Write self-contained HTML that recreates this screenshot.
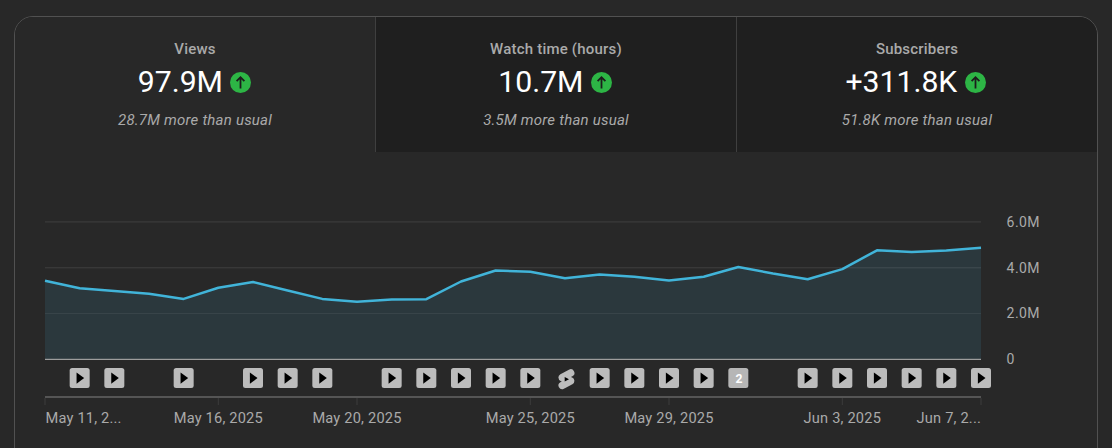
<!DOCTYPE html>
<html><head><meta charset="utf-8">
<style>
html,body{margin:0;padding:0;background:#282828;}
body{width:1112px;height:448px;overflow:hidden;position:relative;font-family:"Roboto","Liberation Sans",sans-serif;}
.card{position:absolute;left:14px;top:16px;width:1082px;height:600px;border:1px solid #515151;border-radius:19px;overflow:hidden;background:#282828;}
.tiles{position:absolute;left:0;top:0;height:135px;width:1082px;display:flex;}
.tile{width:360px;height:135px;position:relative;text-align:center;background:#1f1f1f;}
.tile.sel{background:#282828;}
.div{width:1px;height:135px;background:#3f3f3f;}
.lbl{position:absolute;left:0;right:0;top:22px;font-size:15px;font-weight:540;color:#aaa;line-height:20px;letter-spacing:0.2px;}
.val{position:absolute;left:-1px;right:0;top:46.5px;height:36px;display:flex;justify-content:center;align-items:center;}
.num{font-size:30.2px;color:#fff;line-height:36px;letter-spacing:0px;}
.up{width:21px;height:21px;margin-left:7.3px;position:relative;top:0.8px;}
.sub{position:absolute;left:0;right:0;top:93px;font-size:15px;letter-spacing:0.22px;font-weight:440;font-style:italic;color:#aaa;line-height:20px;}
svg.chart{position:absolute;left:0;top:0;}
.ax{font-size:14.6px;letter-spacing:0.2px;font-weight:450;fill:#aaa;font-family:"Roboto","Liberation Sans",sans-serif;}
.yl{font-size:14px;letter-spacing:0.45px;font-weight:450;fill:#aaa;font-family:"Roboto","Liberation Sans",sans-serif;}
</style></head><body>
<div class="card">
 <div class="tiles">
  <div class="tile sel"><div class="lbl">Views</div><div class="val"><span class="num">97.9M</span><svg class="up" viewBox="0 0 20 20"><circle cx="10" cy="10" r="10" fill="#2db545"/><path d="M10 15.8V4.9M6.3 8.6L10 4.9L13.7 8.6" stroke="#1c1c1c" stroke-width="1.7" fill="none"/></svg></div><div class="sub">28.7M more than usual</div></div>
  <div class="div"></div>
  <div class="tile"><div class="lbl">Watch time (hours)</div><div class="val" style="left:-2px"><span class="num">10.7M</span><svg class="up" viewBox="0 0 20 20"><circle cx="10" cy="10" r="10" fill="#2db545"/><path d="M10 15.8V4.9M6.3 8.6L10 4.9L13.7 8.6" stroke="#1c1c1c" stroke-width="1.7" fill="none"/></svg></div><div class="sub">3.5M more than usual</div></div>
  <div class="div"></div>
  <div class="tile"><div class="lbl">Subscribers</div><div class="val" style="left:-3px"><span class="num">+311.8K</span><svg class="up" viewBox="0 0 20 20"><circle cx="10" cy="10" r="10" fill="#2db545"/><path d="M10 15.8V4.9M6.3 8.6L10 4.9L13.7 8.6" stroke="#1c1c1c" stroke-width="1.7" fill="none"/></svg></div><div class="sub">51.8K more than usual</div></div>
 </div>
</div>
<svg class="chart" width="1112" height="448" viewBox="0 0 1112 448">
 <path d="M45.00,359.0 L45.00,280.80 L79.67,288.30 L114.33,291.00 L149.00,293.80 L183.67,298.90 L218.33,287.80 L253.00,282.00 L287.67,290.50 L322.33,298.90 L357.00,301.70 L391.67,299.50 L426.33,299.20 L461.00,281.50 L495.67,270.50 L530.33,271.70 L565.00,278.20 L599.67,274.40 L634.33,276.70 L669.00,280.50 L703.67,276.80 L738.33,267.00 L773.00,273.50 L807.67,279.20 L842.33,269.10 L877.00,250.30 L911.67,251.90 L946.33,250.50 L981.00,247.80 L981.00,359.0 Z" fill="#2b383d"/>
 <rect x="45" y="221.4" width="936" height="1" fill="#fff" fill-opacity="0.11"/>
 <rect x="45" y="267.3" width="936" height="1" fill="#fff" fill-opacity="0.11"/>
 <rect x="45" y="313.1" width="936" height="1" fill="#fff" fill-opacity="0.07"/>
 <polyline points="45.00,280.80 79.67,288.30 114.33,291.00 149.00,293.80 183.67,298.90 218.33,287.80 253.00,282.00 287.67,290.50 322.33,298.90 357.00,301.70 391.67,299.50 426.33,299.20 461.00,281.50 495.67,270.50 530.33,271.70 565.00,278.20 599.67,274.40 634.33,276.70 669.00,280.50 703.67,276.80 738.33,267.00 773.00,273.50 807.67,279.20 842.33,269.10 877.00,250.30 911.67,251.90 946.33,250.50 981.00,247.80" fill="none" stroke="#41b4d9" stroke-width="2.5" stroke-linejoin="round"/>
 <rect x="45" y="358.8" width="936" height="1.1" fill="#aaa"/>
 <text x="1006.6" y="227" class="yl">6.0M</text>
 <text x="1006.6" y="273" class="yl">4.0M</text>
 <text x="1006.6" y="318" class="yl">2.0M</text>
 <text x="1006.6" y="364" class="yl">0</text>
 <rect x="69.67" y="368" width="20" height="20" rx="2.5" fill="#bcbcbc"/><path d="M76.57,372.5 L84.17,378.1 L76.57,383.7 Z" fill="#000"/><rect x="104.33" y="368" width="20" height="20" rx="2.5" fill="#bcbcbc"/><path d="M111.23,372.5 L118.83,378.1 L111.23,383.7 Z" fill="#000"/><rect x="173.67" y="368" width="20" height="20" rx="2.5" fill="#bcbcbc"/><path d="M180.57,372.5 L188.17,378.1 L180.57,383.7 Z" fill="#000"/><rect x="243.00" y="368" width="20" height="20" rx="2.5" fill="#bcbcbc"/><path d="M249.90,372.5 L257.50,378.1 L249.90,383.7 Z" fill="#000"/><rect x="277.67" y="368" width="20" height="20" rx="2.5" fill="#bcbcbc"/><path d="M284.57,372.5 L292.17,378.1 L284.57,383.7 Z" fill="#000"/><rect x="312.33" y="368" width="20" height="20" rx="2.5" fill="#bcbcbc"/><path d="M319.23,372.5 L326.83,378.1 L319.23,383.7 Z" fill="#000"/><rect x="381.67" y="368" width="20" height="20" rx="2.5" fill="#bcbcbc"/><path d="M388.57,372.5 L396.17,378.1 L388.57,383.7 Z" fill="#000"/><rect x="416.33" y="368" width="20" height="20" rx="2.5" fill="#bcbcbc"/><path d="M423.23,372.5 L430.83,378.1 L423.23,383.7 Z" fill="#000"/><rect x="451.00" y="368" width="20" height="20" rx="2.5" fill="#bcbcbc"/><path d="M457.90,372.5 L465.50,378.1 L457.90,383.7 Z" fill="#000"/><rect x="485.67" y="368" width="20" height="20" rx="2.5" fill="#bcbcbc"/><path d="M492.57,372.5 L500.17,378.1 L492.57,383.7 Z" fill="#000"/><rect x="520.33" y="368" width="20" height="20" rx="2.5" fill="#bcbcbc"/><path d="M527.23,372.5 L534.83,378.1 L527.23,383.7 Z" fill="#000"/><g transform="translate(554.40,367.2)"><path d="M17.77 10.32l-1.2-.5L18 9.06a3.74 3.74 0 00-3.5-6.62L6 6.94a3.74 3.74 0 00.23 6.74l1.2.49L6 14.93a3.75 3.75 0 003.5 6.63l8.5-4.5a3.74 3.74 0 00-.23-6.74z" fill="#bcbcbc"/><path d="M10.3 14.2V9.8L14.6 12Z" fill="#000"/></g><rect x="589.67" y="368" width="20" height="20" rx="2.5" fill="#bcbcbc"/><path d="M596.57,372.5 L604.17,378.1 L596.57,383.7 Z" fill="#000"/><rect x="624.33" y="368" width="20" height="20" rx="2.5" fill="#bcbcbc"/><path d="M631.23,372.5 L638.83,378.1 L631.23,383.7 Z" fill="#000"/><rect x="659.00" y="368" width="20" height="20" rx="2.5" fill="#bcbcbc"/><path d="M665.90,372.5 L673.50,378.1 L665.90,383.7 Z" fill="#000"/><rect x="693.67" y="368" width="20" height="20" rx="2.5" fill="#bcbcbc"/><path d="M700.57,372.5 L708.17,378.1 L700.57,383.7 Z" fill="#000"/><rect x="728.33" y="368" width="20" height="20" rx="2.5" fill="#b6b6b6"/><text x="739.03" y="383" text-anchor="middle" font-size="12.2" font-weight="700" fill="#fff">2</text><rect x="797.67" y="368" width="20" height="20" rx="2.5" fill="#bcbcbc"/><path d="M804.57,372.5 L812.17,378.1 L804.57,383.7 Z" fill="#000"/><rect x="832.33" y="368" width="20" height="20" rx="2.5" fill="#bcbcbc"/><path d="M839.23,372.5 L846.83,378.1 L839.23,383.7 Z" fill="#000"/><rect x="867.00" y="368" width="20" height="20" rx="2.5" fill="#bcbcbc"/><path d="M873.90,372.5 L881.50,378.1 L873.90,383.7 Z" fill="#000"/><rect x="901.67" y="368" width="20" height="20" rx="2.5" fill="#bcbcbc"/><path d="M908.57,372.5 L916.17,378.1 L908.57,383.7 Z" fill="#000"/><rect x="936.33" y="368" width="20" height="20" rx="2.5" fill="#bcbcbc"/><path d="M943.23,372.5 L950.83,378.1 L943.23,383.7 Z" fill="#000"/><rect x="971.00" y="368" width="20" height="20" rx="2.5" fill="#bcbcbc"/><path d="M977.90,372.5 L985.50,378.1 L977.90,383.7 Z" fill="#000"/>
 <rect x="45" y="396" width="936" height="2" fill="#555"/>
 <rect x="44.50" y="398" width="1" height="7" fill="#3c3c3c"/><text x="45.50" y="423" text-anchor="start" class="ax">May 11, 2...</text><rect x="217.83" y="398" width="1" height="7" fill="#3c3c3c"/><text x="218.33" y="423" text-anchor="middle" class="ax">May 16, 2025</text><rect x="356.50" y="398" width="1" height="7" fill="#3c3c3c"/><text x="357.00" y="423" text-anchor="middle" class="ax">May 20, 2025</text><rect x="529.83" y="398" width="1" height="7" fill="#3c3c3c"/><text x="530.33" y="423" text-anchor="middle" class="ax">May 25, 2025</text><rect x="668.50" y="398" width="1" height="7" fill="#3c3c3c"/><text x="669.00" y="423" text-anchor="middle" class="ax">May 29, 2025</text><rect x="841.83" y="398" width="1" height="7" fill="#3c3c3c"/><text x="842.33" y="423" text-anchor="middle" class="ax">Jun 3, 2025</text><rect x="980.50" y="398" width="1" height="7" fill="#3c3c3c"/><text x="981.00" y="423" text-anchor="end" class="ax">Jun 7, 2...</text>
</svg>
</body></html>
